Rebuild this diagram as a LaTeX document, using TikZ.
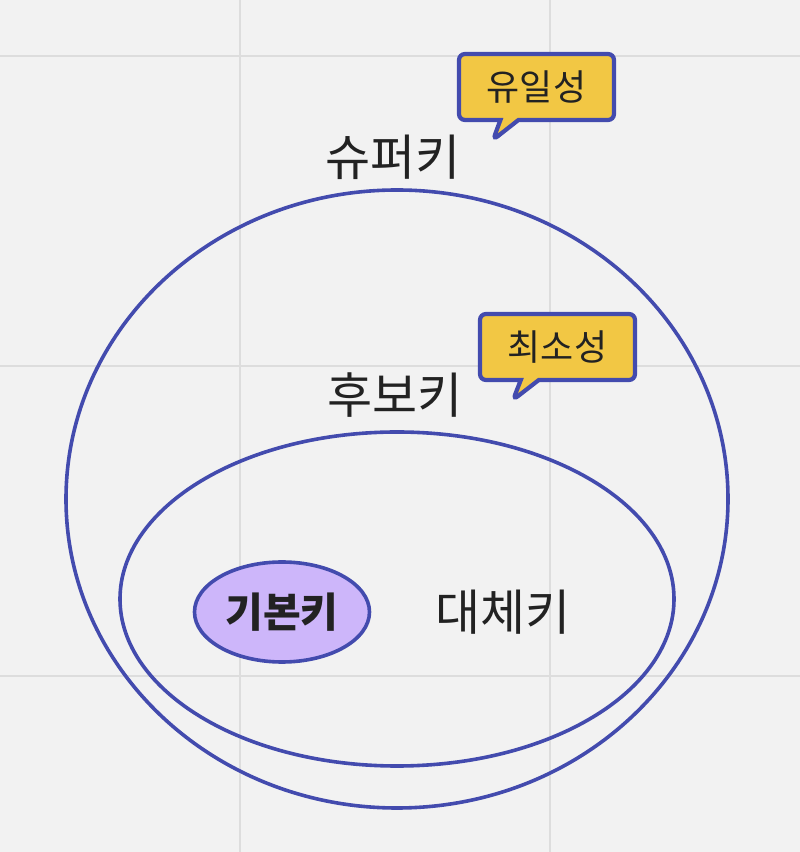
\documentclass[tikz,border=0pt]{standalone}
\usepackage{fontspec}
\usepackage{xcolor}
\usepackage{tikz}
\usetikzlibrary{shapes.geometric, shapes.callouts}
\newfontfamily\krfont{Noto Sans CJK KR}
\definecolor{bgray}{HTML}{F2F2F2}
\definecolor{gridgray}{HTML}{DDDDDD}
\definecolor{setblue}{HTML}{434BAE}
\definecolor{tagyellow}{HTML}{F2C744}
\definecolor{pkpurple}{HTML}{CDB6FA}
\definecolor{inkdark}{HTML}{222222}

\begin{document}
\begin{tikzpicture}[x=1pt, y=1pt,
  setring/.style={ellipse, draw=setblue, line width=3.6pt, inner sep=0pt},
  setlabel/.style={font=\krfont\fontsize{49}{53}\selectfont, text=inkdark},
  pkey/.style={ellipse, draw=setblue, line width=3.6pt, fill=pkpurple, minimum width=175pt, minimum height=100pt, font=\krfont\bfseries\fontsize{41}{45}\selectfont, text=inkdark},
  tag/.style={rectangle callout, draw=setblue, fill=tagyellow, line width=4.2pt, rounded corners=6pt, minimum width=155pt, minimum height=66pt, callout pointer width=18pt, font=\krfont\fontsize{36}{40}\selectfont, text=inkdark}
]
\fill[bgray] (0,0) rectangle (800,852);
\useasboundingbox (0,0) rectangle (800,852);
% grid
\draw[gridgray, line width=2pt] (240,0) -- (240,852) (550,0) -- (550,852);
\draw[gridgray, line width=2pt] (0,796) -- (800,796) (0,486) -- (800,486) (0,176) -- (800,176);
% sets
\node[setring, minimum width=662pt, minimum height=618pt] (super) at (397,353) {};
\node[setring, minimum width=554pt, minimum height=334pt] (cand) at (397,253) {};
\node[pkey] (pk) at (282,240) {기본키};
\node[setlabel] (alt) at (503,240) {대체키};
\node[setlabel] (superlbl) at (393,695) {슈퍼키};
\node[setlabel] (candlbl) at (395,457) {후보키};
% tags
\node[tag, callout absolute pointer={(493,712)}] (uniq) at (536.5,765) {유일성};
\node[tag, callout absolute pointer={(513,452)}] (mini) at (557.5,505) {최소성};
\end{tikzpicture}
\end{document}
